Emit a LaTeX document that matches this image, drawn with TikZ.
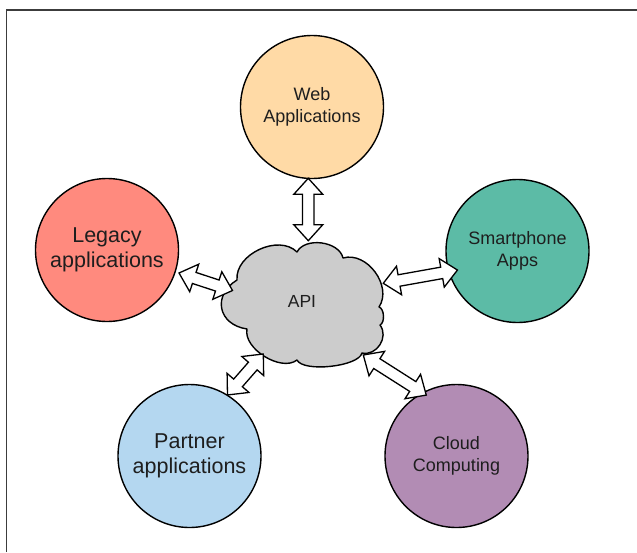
\documentclass[tikz,border=0pt]{standalone}
\usepackage{fontspec}
\setmainfont{Liberation Sans}
\usetikzlibrary{calc}
\definecolor{webc}{RGB}{255,218,166}
\definecolor{legc}{RGB}{255,138,126}
\definecolor{smac}{RGB}{92,187,166}
\definecolor{parc}{RGB}{180,215,240}
\definecolor{ccc}{RGB}{178,140,180}
\definecolor{apic}{RGB}{204,204,204}
\definecolor{txt}{RGB}{30,30,30}
\definecolor{framec}{RGB}{60,60,60}
\def\ahl{16pt}
\def\ahw{14.5pt}
\def\asw{5.8pt}
\newcommand\dblarrow[2]{%
  \draw[blockarrow] let \p1=($(#2)-(#1)$), \n1={atan2(\y1,\x1)} in
    (#1)
    -- ($(#1)+(\n1:\ahl)+(\n1+90:\ahw)$)
    -- ($(#1)+(\n1:\ahl)+(\n1+90:\asw)$)
    -- ($(#2)+(\n1+180:\ahl)+(\n1+90:\asw)$)
    -- ($(#2)+(\n1+180:\ahl)+(\n1+90:\ahw)$)
    -- (#2)
    -- ($(#2)+(\n1+180:\ahl)+(\n1-90:\ahw)$)
    -- ($(#2)+(\n1+180:\ahl)+(\n1-90:\asw)$)
    -- ($(#1)+(\n1:\ahl)+(\n1-90:\asw)$)
    -- ($(#1)+(\n1:\ahl)+(\n1-90:\ahw)$)
    -- cycle;}
\begin{document}
\begin{tikzpicture}[x=1pt,y=-1pt,
  app/.style={circle, draw=black, line width=1.4pt, minimum size=143pt, inner sep=0pt,
    align=center, text=txt, font=\fontsize{18}{22}\selectfont},
  bigtext/.style={font=\fontsize{21.5}{25.5}\selectfont},
  blockarrow/.style={draw=black, fill=white, line width=1.3pt, line join=miter},
  cloudshape/.style={draw=black, fill=apic, line width=1.4pt, line join=round},
  frameline/.style={draw=framec, line width=1.5pt}]
\useasboundingbox (0,0) rectangle (637,552);
\draw[frameline] (6.5,552) -- (6.5,10) -- (637,10);

% applications
\node[app, fill=webc] (web) at (312,107) {Web\\Applications};
\node[app, fill=legc, bigtext] (legacy) at (107,250) {Legacy\\applications};
\node[app, fill=smac] (smart) at (517.5,251) {Smartphone\\Apps};
\node[app, fill=parc, bigtext] (partner) at (189.5,456) {Partner\\applications};
\node[app, fill=ccc] (cloudc) at (456.5,456) {Cloud\\Computing};

% API cloud
\coordinate (c1) at (237,280);
\coordinate (c2) at (297,252);
\coordinate (c3) at (343,258);
\coordinate (c4) at (379,307);
\coordinate (c5) at (380,325);
\coordinate (c6) at (362,353);
\coordinate (c7) at (297,360);
\coordinate (c8) at (247,329);
\draw[cloudshape] (c1)
  to[bend left=70, looseness=1.0] (c2)
  to[bend left=70, looseness=0.95] (c3)
  to[bend left=70, looseness=1.05] (c4)
  to[bend left=70, looseness=0.8] (c5)
  to[bend left=70, looseness=1.16] (c6)
  to[bend left=70, looseness=0.55] (c7)
  to[bend left=70, looseness=0.87] (c8)
  to[bend left=70, looseness=1.5] (c1) -- cycle;
\node[text=txt, font=\fontsize{17.5}{21}\selectfont] (api) at (302,301) {API};

% connector end points
\coordinate (pw) at (308.3,240.7);
\coordinate (ew) at ($(web.center)+(-93:71.4pt)$);
\coordinate (pl) at (232.5,290.5);
\coordinate (el) at ($(legacy.center)+(-17.7:75.6pt)$);
\coordinate (ps) at (383.3,283.3);
\coordinate (es) at ($(smart.center)+(197.6:63pt)$);
\coordinate (pp) at (263.3,354);
\coordinate (ep) at ($(partner.center)+(58.1:71.9pt)$);
\coordinate (pc) at (363.3,355);
\coordinate (ec) at ($(cloudc.center)+(116.4:68pt)$);

\dblarrow{ew}{pw}
\dblarrow{el}{pl}
\dblarrow{ps}{es}
\dblarrow{ep}{pp}
\dblarrow{pc}{ec}
\end{tikzpicture}
\end{document}
